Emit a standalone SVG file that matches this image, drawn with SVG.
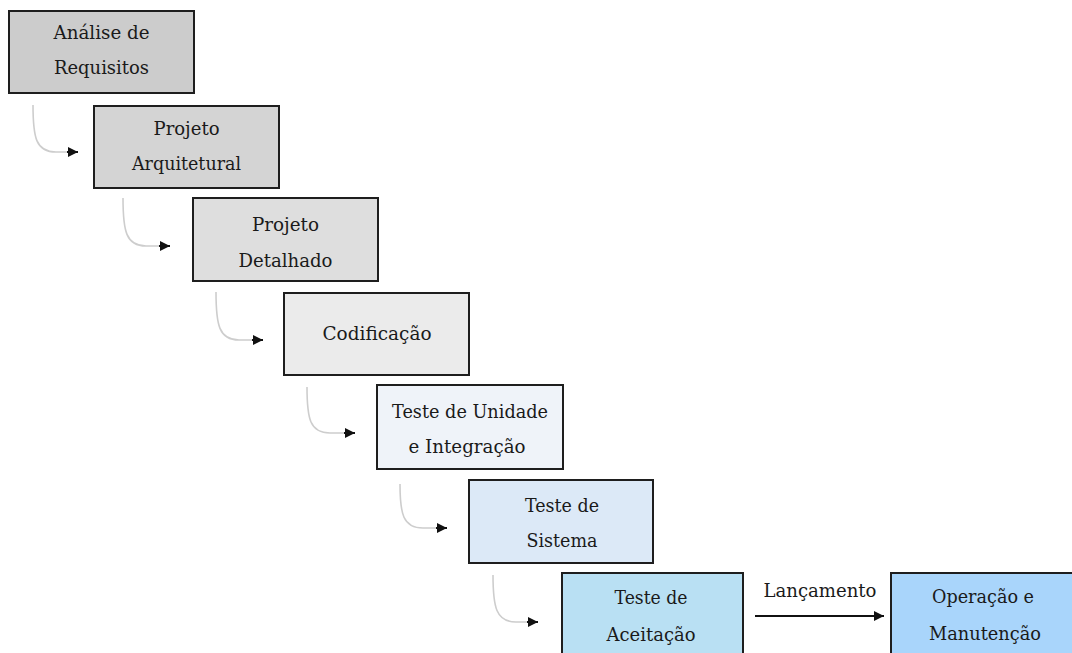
<svg xmlns="http://www.w3.org/2000/svg" width="1072" height="653" viewBox="0 0 1072 653">
  <style>
    .box { stroke: #1e1e1e; stroke-width: 2; }
    .lbl { font-family: 'DejaVu Serif', 'Liberation Serif', serif; font-size: 19px; fill: #1a1a1a; text-anchor: middle; }
    .flow { fill: none; stroke: #cdcdcd; stroke-width: 1.6; }
    .main { fill: none; stroke: #111; stroke-width: 2; }
  </style>
  <defs>
    <marker id="head" viewBox="0 0 10 10" refX="10" refY="5" markerUnits="userSpaceOnUse" markerWidth="11" markerHeight="10" orient="auto">
      <path d="M0,0 L10,5 L0,10 Z" fill="#111"/>
    </marker>
  </defs>
  <rect width="1072" height="653" fill="#ffffff"/>

  <!-- connectors -->
  <g id="connectors">
    <path class="flow" d="M33,105 C33,138 36,152 56,152 L68,152"/>
    <path class="flow" d="M123,198 C123,231 126,246 146,246 L160,246"/>
    <path class="flow" d="M216,292 C216,325 219,340 239,340 L253,340"/>
    <path class="flow" d="M307,387 C307,419 310,433 330,433 L345,433"/>
    <path class="flow" d="M400,484 C400,514 403,528 423,528 L437,528"/>
    <path class="flow" d="M493,575 C493,607 496,622 516,622 L528,622"/>
    <path class="main" d="M67,152 L78,152" marker-end="url(#head)" stroke-width="0.5"/>
    <path class="main" d="M159,246 L170,246" marker-end="url(#head)" stroke-width="0.5"/>
    <path class="main" d="M252,340 L263,340" marker-end="url(#head)" stroke-width="0.5"/>
    <path class="main" d="M344,433 L355,433" marker-end="url(#head)" stroke-width="0.5"/>
    <path class="main" d="M436,528 L447,528" marker-end="url(#head)" stroke-width="0.5"/>
    <path class="main" d="M527,622 L538,622" marker-end="url(#head)" stroke-width="0.5"/>
    <path class="main" d="M755,616 L884,616" marker-end="url(#head)"/>
    <text class="lbl" x="820" y="597" textLength="113" lengthAdjust="spacingAndGlyphs">Lançamento</text>
  </g>

  <g id="analise">
    <rect class="box" x="9" y="11" width="185" height="82" fill="#cccccc"/>
    <text class="lbl" x="101.5" y="39" textLength="96" lengthAdjust="spacingAndGlyphs">Análise de</text>
    <text class="lbl" x="101.5" y="74" textLength="95" lengthAdjust="spacingAndGlyphs">Requisitos</text>
  </g>

  <g id="projeto-arquitetural">
    <rect class="box" x="94" y="106" width="185" height="82" fill="#d4d4d4"/>
    <text class="lbl" x="186.5" y="135" textLength="66" lengthAdjust="spacingAndGlyphs">Projeto</text>
    <text class="lbl" x="186.5" y="170" textLength="109" lengthAdjust="spacingAndGlyphs">Arquitetural</text>
  </g>

  <g id="projeto-detalhado">
    <rect class="box" x="193" y="198" width="185" height="83" fill="#dedede"/>
    <text class="lbl" x="285.5" y="231" textLength="67" lengthAdjust="spacingAndGlyphs">Projeto</text>
    <text class="lbl" x="285.5" y="267" textLength="94" lengthAdjust="spacingAndGlyphs">Detalhado</text>
  </g>

  <g id="codificacao">
    <rect class="box" x="284" y="293" width="185" height="82" fill="#ebebeb"/>
    <text class="lbl" x="377" y="340" textLength="109" lengthAdjust="spacingAndGlyphs">Codificação</text>
  </g>

  <g id="teste-unidade">
    <rect class="box" x="377" y="385" width="186" height="84" fill="#eff3f9"/>
    <text class="lbl" x="470" y="418" textLength="156" lengthAdjust="spacingAndGlyphs">Teste de Unidade</text>
    <text class="lbl" x="467" y="453" textLength="117" lengthAdjust="spacingAndGlyphs">e Integração</text>
  </g>

  <g id="teste-sistema">
    <rect class="box" x="469" y="480" width="184" height="83" fill="#dce9f7"/>
    <text class="lbl" x="562" y="512" textLength="74" lengthAdjust="spacingAndGlyphs">Teste de</text>
    <text class="lbl" x="562" y="547" textLength="71" lengthAdjust="spacingAndGlyphs">Sistema</text>
  </g>

  <g id="teste-aceitacao">
    <rect class="box" x="562" y="573" width="181" height="84" fill="#b9e0f3"/>
    <text class="lbl" x="651" y="604" textLength="73" lengthAdjust="spacingAndGlyphs">Teste de</text>
    <text class="lbl" x="651" y="641" textLength="89" lengthAdjust="spacingAndGlyphs">Aceitação</text>
  </g>

  <g id="operacao">
    <rect class="box" x="891" y="573" width="190" height="84" fill="#a9d5fb"/>
    <text class="lbl" x="983" y="603" textLength="102" lengthAdjust="spacingAndGlyphs">Operação e</text>
    <text class="lbl" x="985" y="640" textLength="112" lengthAdjust="spacingAndGlyphs">Manutenção</text>
  </g>
</svg>
